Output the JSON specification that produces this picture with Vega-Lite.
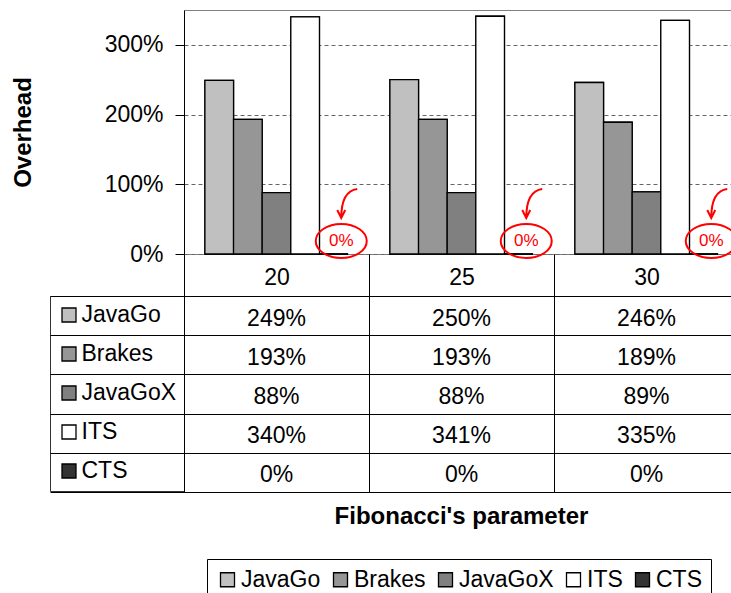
{
  "$schema": "https://vega.github.io/schema/vega-lite/v6.json",
  "padding": {"left": 10, "top": 9, "right": 0, "bottom": 0},
  "config": {
    "font": "Liberation Sans",
    "view": {"stroke": "#808080", "strokeWidth": 1},
    "axis": {"labelColor": "black", "titleColor": "black", "labelFont": "Liberation Sans", "titleFont": "Liberation Sans"},
    "legend": {"labelFont": "Liberation Sans", "strokeWidth": 1},
    "title": {"font": "Liberation Sans"}
  },
  "datasets": {
    "ovh": [
      {"param": "20", "series": "JavaGo", "v": 2.49},
      {"param": "20", "series": "Brakes", "v": 1.93},
      {"param": "20", "series": "JavaGoX", "v": 0.88},
      {"param": "20", "series": "ITS", "v": 3.40},
      {"param": "20", "series": "CTS", "v": 0},
      {"param": "25", "series": "JavaGo", "v": 2.50},
      {"param": "25", "series": "Brakes", "v": 1.93},
      {"param": "25", "series": "JavaGoX", "v": 0.88},
      {"param": "25", "series": "ITS", "v": 3.41},
      {"param": "25", "series": "CTS", "v": 0},
      {"param": "30", "series": "JavaGo", "v": 2.46},
      {"param": "30", "series": "Brakes", "v": 1.89},
      {"param": "30", "series": "JavaGoX", "v": 0.89},
      {"param": "30", "series": "ITS", "v": 3.35},
      {"param": "30", "series": "CTS", "v": 0}
    ]
  },
  "spacing": 42,
  "bounds": "flush",
  "resolve": {"scale": {"y": "independent"}, "legend": {"fill": "independent"}},
  "vconcat": [
    {
      "width": 555,
      "height": 244,
      "data": {"name": "ovh"},
      "encoding": {
        "y": {
          "field": "v", "type": "quantitative",
          "scale": {"domain": [0, 3.5], "nice": false},
          "axis": {
            "values": [0, 1, 2, 3], "format": ".0%",
            "grid": true, "gridDash": [4, 3], "gridColor": "#666", "gridWidth": 1, "gridOpacity": 1,
            "tickSize": 9, "tickColor": "black", "tickWidth": 1,
            "domainColor": "black", "domainWidth": 1,
            "labelFontSize": 23, "labelPadding": 12,
            "title": "Overhead", "titleFontSize": 24, "titleFontWeight": "bold", "titlePadding": 69
          }
        }
      },
      "layer": [
        {
          "mark": {"type": "bar", "stroke": "black", "strokeWidth": 1.3},
          "encoding": {
            "x": {
              "field": "param", "type": "nominal",
              "scale": {"paddingInner": 0, "paddingOuter": 0},
              "axis": {"title": null, "labels": false, "ticks": false, "domain": true, "domainColor": "black", "domainWidth": 1, "grid": false}
            },
            "xOffset": {
              "field": "series", "type": "nominal",
              "sort": ["JavaGo", "Brakes", "JavaGoX", "ITS", "CTS"],
              "scale": {"domain": ["JavaGo", "Brakes", "JavaGoX", "ITS", "CTS"], "paddingInner": 0, "paddingOuter": 0.73}
            },
            "fill": {
              "field": "series", "type": "nominal",
              "scale": {"domain": ["JavaGo", "Brakes", "JavaGoX", "ITS", "CTS"], "range": ["#C0C0C0", "#969696", "#808080", "#FFFFFF", "#333333"]},
              "legend": {
                "orient": "none", "legendX": 23, "legendY": 549, "direction": "horizontal", "title": null,
                "symbolType": "square", "symbolSize": 196, "symbolStrokeColor": "black", "symbolStrokeWidth": 1.3,
                "labelFontSize": 23, "labelColor": "black", "labelOffset": 2, "columnPadding": 8,
                "padding": 9, "strokeColor": "black"
              }
            }
          }
        },
        {
          "mark": {"type": "bar", "stroke": "black", "strokeWidth": 1.3},
          "encoding": {
            "x": {"field": "param", "type": "nominal", "scale": {"paddingInner": 0, "paddingOuter": 0}, "axis": null},
            "xOffset": {
              "field": "series", "type": "nominal",
              "sort": ["JavaGo", "Brakes", "JavaGoX", "ITS", "CTS"],
              "scale": {"domain": ["JavaGo", "Brakes", "JavaGoX", "ITS", "CTS"], "paddingInner": 0, "paddingOuter": 0.73}
            },
            "fill": {
              "field": "series", "type": "nominal",
              "scale": {"domain": ["JavaGo", "Brakes", "JavaGoX", "ITS", "CTS"], "range": ["#C0C0C0", "#969696", "#808080", "#FFFFFF", "#333333"]},
              "legend": {
                "orient": "none", "legendX": -134, "legendY": 286, "direction": "vertical", "title": null,
                "symbolType": "square", "symbolSize": 196, "symbolStrokeColor": "black", "symbolStrokeWidth": 1.3,
                "labelFontSize": 23, "labelColor": "black", "labelOffset": 1, "rowPadding": 15,
                "padding": 7.5, "strokeColor": "#333"
              }
            }
          }
        },
        {
          "transform": [{"filter": "datum.series === 'CTS'"}],
          "mark": {"type": "point", "shape": "M-1,0A1,0.667,0,1,1,1,0A1,0.667,0,1,1,-1,0Z", "size": 2601, "filled": false, "stroke": "red", "strokeWidth": 2, "opacity": 1, "yOffset": -13},
          "encoding": {
            "x": {"field": "param", "type": "nominal", "bandPosition": 0.85, "scale": {"paddingInner": 0, "paddingOuter": 0}, "axis": null}
          }
        },
        {
          "transform": [{"filter": "datum.series === 'CTS'"}],
          "mark": {"type": "point", "shape": "M0.55,-0.75Q-0.25,-0.65,-0.25,0.7M-0.45,0.3L-0.25,0.7L-0.05,0.3", "size": 1600, "filled": false, "stroke": "red", "strokeWidth": 2, "opacity": 1, "xOffset": 5, "yOffset": -50},
          "encoding": {
            "x": {"field": "param", "type": "nominal", "bandPosition": 0.85, "scale": {"paddingInner": 0, "paddingOuter": 0}, "axis": null}
          }
        },
        {
          "transform": [{"filter": "datum.series === 'CTS'"}],
          "mark": {"type": "text", "color": "red", "fontSize": 17, "dy": -13, "baseline": "middle", "align": "center"},
          "encoding": {
            "x": {"field": "param", "type": "nominal", "bandPosition": 0.85, "scale": {"paddingInner": 0, "paddingOuter": 0}, "axis": null},
            "text": {"field": "v", "type": "quantitative", "format": ".0%"}
          }
        }
      ],
      "resolve": {"legend": {"fill": "independent"}}
    },
    {
      "width": 555,
      "height": 196,
      "data": {"name": "ovh"},
      "mark": {"type": "text", "fontSize": 23, "color": "black", "baseline": "middle", "dy": 3},
      "encoding": {
        "x": {
          "field": "param", "type": "nominal",
          "scale": {"paddingInner": 0, "paddingOuter": 0},
          "axis": {
            "orient": "top", "title": null, "labelAngle": 0, "labelFontSize": 23, "labelPadding": -35,
            "tickBand": "extent", "ticks": true, "tickSize": 42, "tickColor": "black", "tickWidth": 1,
            "grid": true, "gridColor": "black", "gridOpacity": 1, "gridWidth": 1, "domain": false
          }
        },
        "y": {
          "field": "series", "type": "nominal",
          "sort": ["JavaGo", "Brakes", "JavaGoX", "ITS", "CTS"],
          "scale": {"domain": ["JavaGo", "Brakes", "JavaGoX", "ITS", "CTS"], "paddingInner": 0, "paddingOuter": 0},
          "axis": {
            "title": null, "labels": false, "tickBand": "extent", "ticks": true, "tickSize": 134, "tickColor": "black", "tickWidth": 1,
            "grid": true, "gridColor": "black", "gridOpacity": 1, "gridWidth": 1, "domain": true, "domainColor": "black"
          }
        },
        "text": {"field": "v", "type": "quantitative", "format": ".0%"}
      },
      "title": {"text": "Fibonacci's parameter", "orient": "bottom", "fontSize": 24, "fontWeight": "bold", "offset": 12, "color": "black", "anchor": "middle"}
    }
  ]
}
